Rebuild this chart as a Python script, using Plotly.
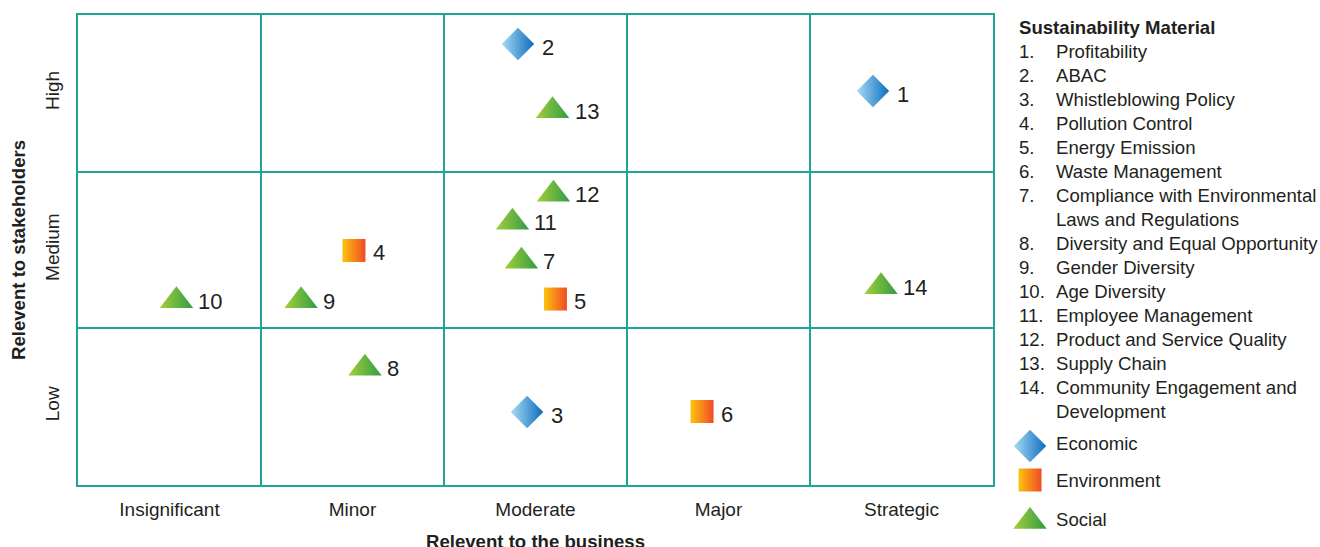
import plotly.graph_objects as go

# ---------------- data ----------------
business_levels = ["Insignificant", "Minor", "Moderate", "Major", "Strategic"]
stakeholder_levels = ["Low", "Medium", "High"]

material_ids = [1, 2, 3, 4, 5, 6, 7, 8, 9, 10, 11, 12, 13, 14]
material_names = [
    "Profitability",
    "ABAC",
    "Whistleblowing Policy",
    "Pollution Control",
    "Energy Emission",
    "Waste Management",
    "Compliance with Environmental\nLaws and Regulations",
    "Diversity and Equal Opportunity",
    "Gender Diversity",
    "Age Diversity",
    "Employee Management",
    "Product and Service Quality",
    "Supply Chain",
    "Community Engagement and\nDevelopment",
]
material_group = ["Economic", "Economic", "Economic",
                  "Environment", "Environment", "Environment",
                  "Social", "Social", "Social", "Social",
                  "Social", "Social", "Social", "Social"]
# relevance to the business (0..5, one unit per column)
business_score = [4.344, 2.404, 2.454, 1.508, 2.609, 3.410, 2.423,
                  1.568, 1.219, 0.538, 2.374, 2.598, 2.593, 4.388]
# relevance to stakeholders (0..3, one unit per row)
stakeholder_score = [2.515, 2.815, 0.466, 1.497, 1.187, 0.469, 1.428,
                     0.745, 1.176, 1.176, 1.677, 1.856, 2.389, 1.265]

groups = ["Economic", "Environment", "Social"]
x_title = "Relevent to the business"
y_title = "Relevent to stakeholders"

# ---------------- styles ----------------
TEAL = "#1fa595"
TXT = "#231f20"
FONT = "Liberation Sans, Arial, Helvetica, sans-serif"
KEY_FS = 18.6
style = {
    "Economic": dict(symbol="diamond", size=25, dark="#0a6cbc", light="#a9dbf6", dx=22, dy=-3.5),
    "Environment": dict(symbol="square", size=23, dark="#f04a24", light="#fcc40f", dx=17, dy=-2.5),
    "Social": dict(symbol="triangle-up", size=29, dark="#2f9c47", light="#a5cf38", dx=20, dy=-0.5),
}

fig = go.Figure()

# plot markers
for g in groups:
    st = style[g]
    xs = [x for x, gg in zip(business_score, material_group) if gg == g]
    ys = [y for y, gg in zip(stakeholder_score, material_group) if gg == g]
    fig.add_trace(go.Scatter(
        x=xs, y=ys, mode="markers", name=g, showlegend=False,
        marker=dict(symbol=st["symbol"], size=st["size"], color=st["light"],
                    line=dict(width=0),
                    gradient=dict(type="horizontal", color=st["dark"])),
        cliponaxis=False, hoverinfo="skip",
    ))

annotations = []
for mid, x, y, g in zip(material_ids, business_score, stakeholder_score, material_group):
    annotations.append(dict(
        x=x, y=y, xref="x", yref="y", text=str(mid), showarrow=False,
        xanchor="left", yanchor="middle", xshift=style[g]["dx"], yshift=style[g]["dy"],
        font=dict(family=FONT, size=22, color=TXT),
    ))

W, H = 1320, 547
PLOT_L, PLOT_R, PLOT_T, PLOT_B = 78, 993, 15, 485

# x-axis title (placed like the reference, partly below the page edge)
annotations.append(dict(
    x=(PLOT_L + PLOT_R) / 2 / W, xref="paper", y=541, yref="y2",
    text=f"<b>{x_title}</b>", showarrow=False, xanchor="center", yanchor="middle",
    font=dict(family=FONT, size=18.6, color=TXT)))

# ---------------- right-hand key (x2/y2 in page pixels) ----------------
KEY_X_NUM = 1017
KEY_X_TXT = 1054
KEY_TOP = 27
LINE = 24

annotations.append(dict(
    x=KEY_X_NUM, y=KEY_TOP, xref="x2", yref="y2", text="<b>Sustainability Material</b>",
    showarrow=False, xanchor="left", yanchor="middle",
    font=dict(family=FONT, size=KEY_FS, color=TXT)))
row = 1
for mid, name in zip(material_ids, material_names):
    annotations.append(dict(
        x=KEY_X_NUM, y=KEY_TOP + row * LINE, xref="x2", yref="y2", text=f"{mid}.",
        showarrow=False, xanchor="left", yanchor="middle",
        font=dict(family=FONT, size=KEY_FS, color=TXT)))
    for line in name.split("\n"):
        annotations.append(dict(
            x=KEY_X_TXT, y=KEY_TOP + row * LINE, xref="x2", yref="y2", text=line,
            showarrow=False, xanchor="left", yanchor="middle",
            font=dict(family=FONT, size=KEY_FS, color=TXT)))
        row += 1

key_marker_x = 1030
key_marker_y = [446, 480, 521.5]
key_text_y = [443, 480, 519]
for g, my, ty in zip(groups, key_marker_y, key_text_y):
    st = style[g]
    fig.add_trace(go.Scatter(
        x=[key_marker_x], y=[my], xaxis="x2", yaxis="y2", mode="markers",
        showlegend=False, hoverinfo="skip", cliponaxis=False,
        marker=dict(symbol=st["symbol"], size=st["size"], color=st["light"],
                    line=dict(width=0),
                    gradient=dict(type="horizontal", color=st["dark"])),
    ))
    annotations.append(dict(
        x=KEY_X_TXT, y=ty, xref="x2", yref="y2", text=g, showarrow=False,
        xanchor="left", yanchor="middle",
        font=dict(family=FONT, size=KEY_FS, color=TXT)))

fig.update_layout(
    width=W, height=H,
    margin=dict(l=0, r=0, t=0, b=0, pad=0),
    paper_bgcolor="white", plot_bgcolor="white",
    font=dict(family=FONT, color=TXT),
    annotations=annotations,
    xaxis=dict(
        domain=[PLOT_L / W, PLOT_R / W], range=[0, 5], fixedrange=True,
        tickvals=[i + 0.5 for i in range(len(business_levels))],
        ticktext=business_levels, ticks="", showgrid=False, zeroline=False,
        showline=True, mirror=True, linecolor=TEAL, linewidth=2,
        minor=dict(tickvals=[1, 2, 3, 4], showgrid=True, gridcolor=TEAL, gridwidth=1.5, ticks=""),
        tickfont=dict(family=FONT, size=19, color=TXT), ticklabelstandoff=6,
        automargin=False,
    ),
    yaxis=dict(
        domain=[(H - PLOT_B) / H, (H - PLOT_T) / H], range=[0, 3], fixedrange=True,
        tickvals=[i + 0.5 for i in range(len(stakeholder_levels))],
        ticktext=stakeholder_levels, ticks="", tickangle=-90,
        showgrid=False, zeroline=False,
        showline=True, mirror=True, linecolor=TEAL, linewidth=2,
        minor=dict(tickvals=[1, 2], showgrid=True, gridcolor=TEAL, gridwidth=1.5, ticks=""),
        tickfont=dict(family=FONT, size=19, color=TXT), ticklabelstandoff=9,
        automargin=False,
        title=dict(text=y_title, standoff=12,
                   font=dict(family=FONT, size=18.6, color=TXT, weight="bold")),
    ),
    xaxis2=dict(domain=[PLOT_R / W, 1], range=[PLOT_R, W], visible=False,
                fixedrange=True, anchor="y2"),
    yaxis2=dict(domain=[0, 1], range=[H, 0], visible=False, fixedrange=True, anchor="x2"),
)

fig.write_html("out.html", config={"displayModeBar": False},
               post_script="document.body.style.margin='0px';")
